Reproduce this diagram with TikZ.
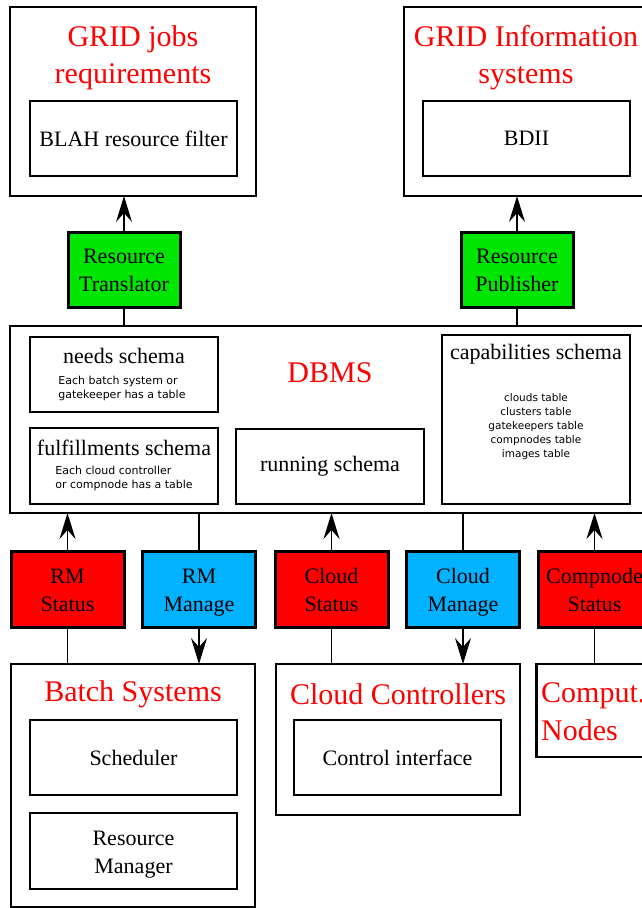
\documentclass[tikz,border=0pt]{standalone}
\usepackage{fontspec}
\setmainfont{Liberation Serif}
\newfontfamily\smallsans{DejaVu Sans}
\usetikzlibrary{arrows.meta}
\definecolor{boxred}{RGB}{255,0,0}
\definecolor{boxblue}{RGB}{0,178,255}
\definecolor{boxgreen}{RGB}{0,230,0}
\newcommand\lnstrut{\rule[-5.6pt]{0pt}{28pt}}
\begin{document}
\begin{tikzpicture}[x=1pt,y=-1pt,
  outer/.style={draw,line width=2.6pt,inner sep=0pt,outer sep=0pt},
  inner/.style={draw,line width=2.6pt,inner sep=0pt,outer sep=0pt,font=\fontsize{22}{28}\selectfont,align=center},
  schematitle/.style={inner sep=0pt,font=\fontsize{22}{28}\selectfont},
  agent/.style={draw,line width=3pt,inner sep=0pt,outer sep=0pt,minimum width=113pt,minimum height=76pt,font=\fontsize{22}{28}\selectfont,align=center},
  title/.style={text=red,font=\fontsize{30}{37}\selectfont,align=center,inner sep=0pt},
  note/.style={font=\smallsans\fontsize{11}{13.5}\selectfont,inner sep=0pt},
  conn/.style={line width=1.5pt},
  arr/.style={conn,-{Stealth[length=26pt,width=16pt,inset=9pt]}},
  ]
\useasboundingbox (0,0) rectangle (642,908);
\clip (0,0) rectangle (642,908);
\fill[white] (0,0) rectangle (642,908);

% top boxes
\node[outer,minimum width=246pt,minimum height=189pt] (grid) at (133,101.5) {};
\node[title] (gridt) at (133,58) {GRID jobs\\requirements};
\node[inner,minimum width=207pt,minimum height=75pt] (blah) at (133.5,138.5) {BLAH resource filter};

\node[outer,minimum width=244pt,minimum height=189pt] (info) at (526,101.5) {};
\node[title] (infot) at (526,58) {GRID Information\\systems};
\node[inner,minimum width=207pt,minimum height=75pt] (bdii) at (526.5,138.5) {BDII};

% translator / publisher
\node[agent,fill=boxgreen,minimum width=112pt,minimum height=75pt] (trans) at (124,269.5) {\lnstrut Resource\\\lnstrut Translator};
\node[agent,fill=boxgreen,minimum width=112pt,minimum height=75pt] (pub) at (517,269.5) {\lnstrut Resource\\\lnstrut Publisher};

% DBMS
\node[outer,minimum width=640pt,minimum height=187pt] (dbms) at (330,419.5) {};
\node[title] (dbmst) at (330,373) {DBMS};
\node[inner,minimum width=188pt,minimum height=75pt] (needs) at (124,374.5) {};
\node[schematitle] (needst) at (124,356) {needs schema};
\node[note,align=left] (needsn) at (122,388.5) {Each batch system or\\gatekeeper has a table};
\node[inner,minimum width=188pt,minimum height=76pt] (fulf) at (124,466) {};
\node[schematitle] (fulft) at (124,448) {fulfillments schema};
\node[note,align=left] (fulfn) at (124,478.5) {Each cloud controller\\or compnode has a table};
\node[inner,minimum width=188pt,minimum height=75pt] (run) at (330,466.5) {running schema};
\node[inner,minimum width=188pt,minimum height=169pt] (cap) at (536,419.5) {};
\node[schematitle] (capt) at (536,354) {capabilities schema};
\node[note,align=center,font=\smallsans\fontsize{10.5}{14}\selectfont] (capn) at (536,427) {clouds table\\clusters table\\gatekeepers table\\compnodes table\\images table};

% status / manage row
\node[agent,fill=boxred] (rms) at (67.5,589) {\lnstrut RM\\\lnstrut Status};
\node[agent,fill=boxblue] (rmm) at (199,589) {\lnstrut RM\\\lnstrut Manage};
\node[agent,fill=boxred] (cls) at (331.5,589) {\lnstrut Cloud\\\lnstrut Status};
\node[agent,fill=boxblue] (clm) at (463,589) {\lnstrut Cloud\\\lnstrut Manage};
\node[agent,fill=boxred] (cns) at (594.5,589) {\lnstrut Compnode\\\lnstrut Status};

% bottom boxes
\node[outer,minimum width=244pt,minimum height=243pt] (batch) at (133,785.5) {};
\node[title] (batcht) at (133,694) {Batch Systems};
\node[inner,minimum width=207pt,minimum height=75pt] (sched) at (133.5,757.5) {Scheduler};
\node[inner,minimum width=207pt,minimum height=76pt] (rman) at (133.5,851) {\lnstrut Resource\\\lnstrut Manager};

\node[outer,minimum width=244pt,minimum height=151pt] (cloud) at (398,739.5) {};
\node[title] (cloudt) at (398,694) {Cloud Controllers};
\node[inner,minimum width=207pt,minimum height=75pt] (ctrl) at (397.5,757.5) {Control interface};

\node[outer,minimum width=244pt,minimum height=93pt] (comp) at (658.5,710.5) {};
\node[title,align=left,anchor=north west,font=\fontsize{30}{38}\selectfont] (compt) at (541,682) {Comput.\\Nodes};

% connectors
\draw[arr] (trans.north) -- (grid.south -| trans.north);
\draw[arr] (pub.north) -- (info.south -| pub.north);
\draw[conn] (trans.south) -- (dbms.north -| trans.south);
\draw[conn] (pub.south) -- (dbms.north -| pub.south);

\draw[arr] (rms.north) -- (dbms.south -| rms.north);
\draw[conn] (rmm.north) -- (dbms.south -| rmm.north);
\draw[arr] (cls.north) -- (dbms.south -| cls.north);
\draw[conn] (clm.north) -- (dbms.south -| clm.north);
\draw[arr] (cns.north) -- (dbms.south -| cns.north);

\draw[conn] (rms.south) -- (batch.north -| rms.south);
\draw[arr] (rmm.south) -- (batch.north -| rmm.south);
\draw[conn] (cls.south) -- (cloud.north -| cls.south);
\draw[arr] (clm.south) -- (cloud.north -| clm.south);
\draw[conn] (cns.south) -- (comp.north -| cns.south);
\end{tikzpicture}
\end{document}
